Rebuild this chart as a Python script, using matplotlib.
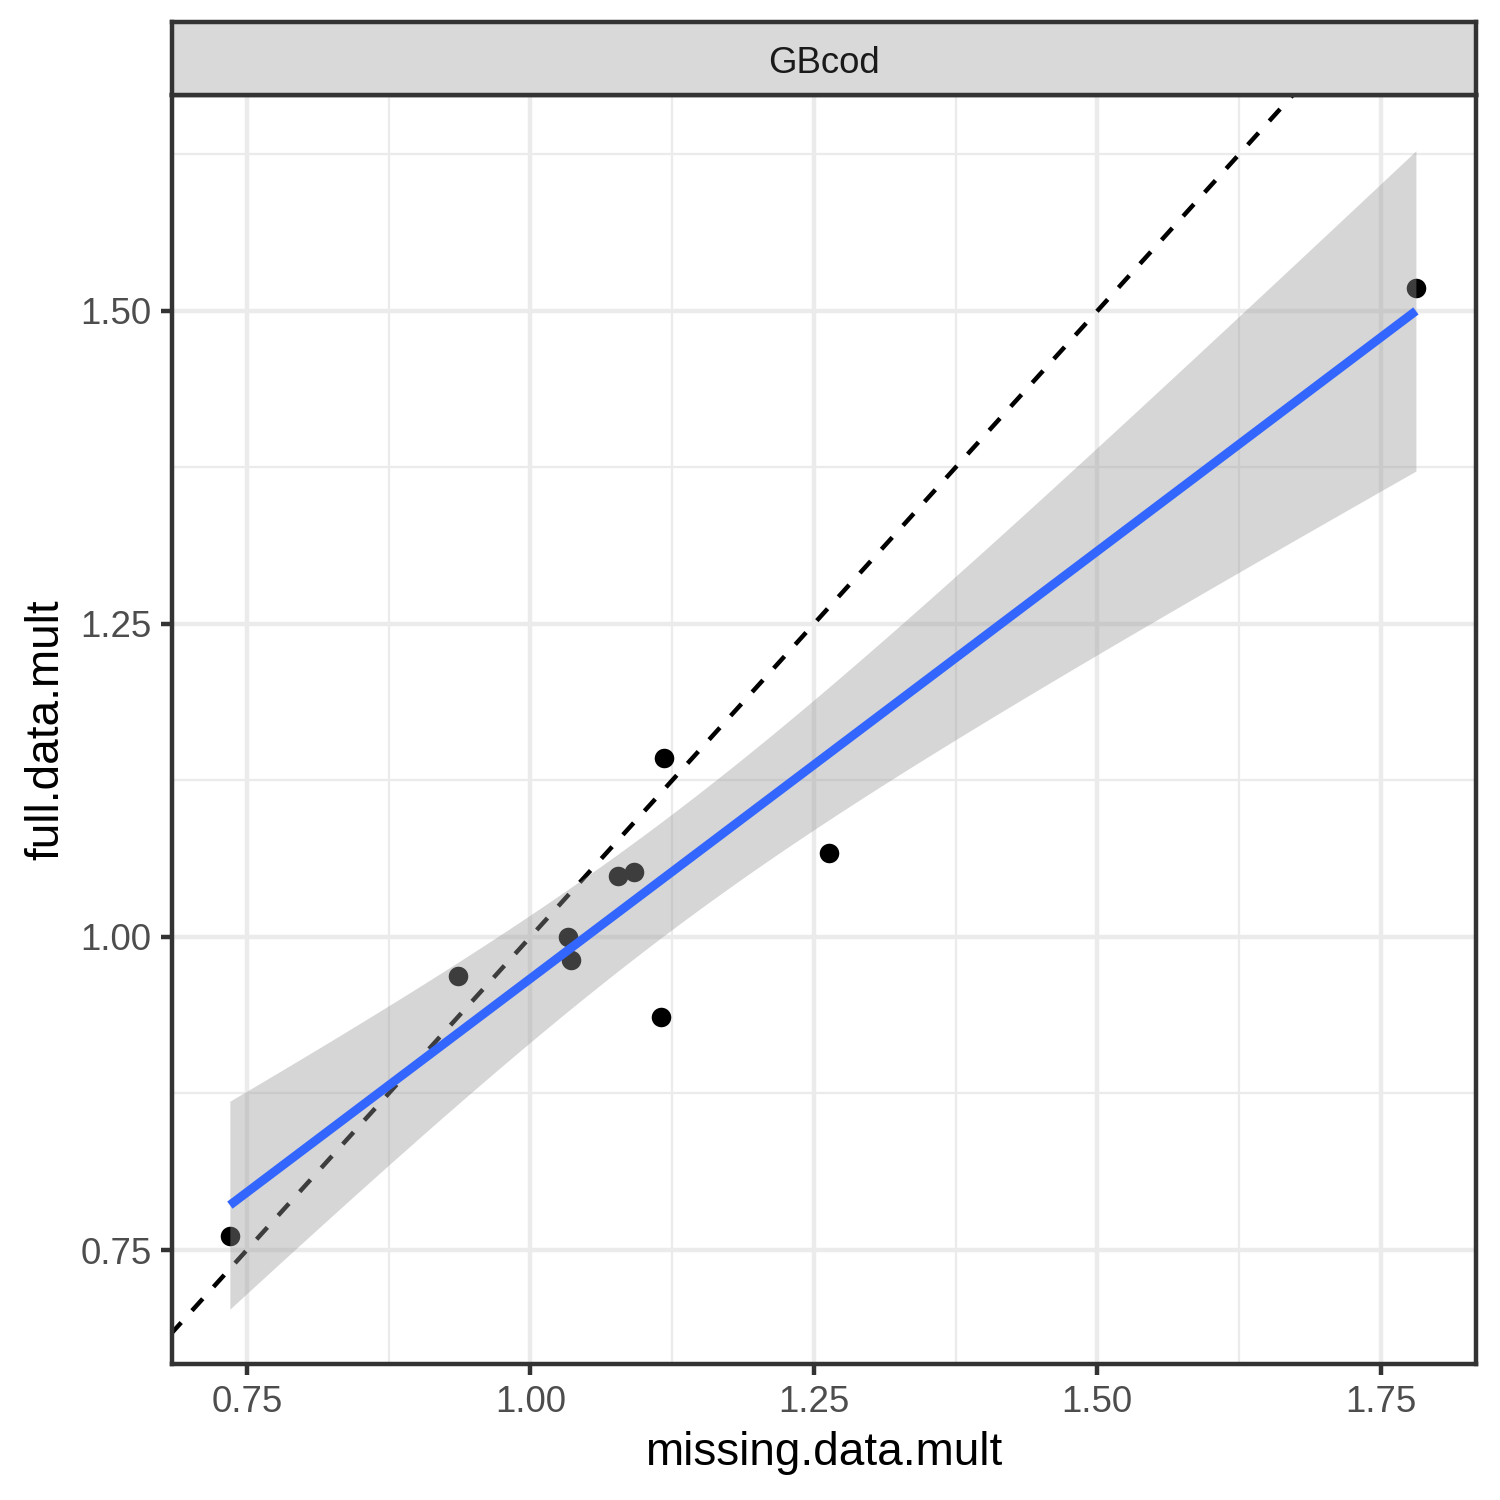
import numpy as np
import matplotlib
matplotlib.use("Agg")
import matplotlib.pyplot as plt

plt.rcParams['font.family'] = ['Liberation Sans', 'DejaVu Sans']

# data
missing_data_mult = [0.735, 0.9365, 1.033, 1.036, 1.077, 1.091, 1.118, 1.115, 1.263, 1.781]
full_data_mult = [0.761, 0.969, 1.000, 0.982, 1.049, 1.052, 1.143, 0.936, 1.067, 1.518]
facet_label = "GBcod"
x_ticks = [0.75, 1.00, 1.25, 1.50, 1.75]
y_ticks = [0.75, 1.00, 1.25, 1.50]

x = np.array(missing_data_mult)
y = np.array(full_data_mult)

# linear model with 95% CI (as in geom_smooth(method='lm'))
n = len(x)
b1, b0 = np.polyfit(x, y, 1)
resid = y - (b0 + b1 * x)
s = np.sqrt(np.sum(resid ** 2) / (n - 2))
tq = 2.306004  # t quantile 0.975, df = 8
xs = np.linspace(x.min(), x.max(), 200)
ys = b0 + b1 * xs
se = s * np.sqrt(1.0 / n + (xs - x.mean()) ** 2 / np.sum((x - x.mean()) ** 2))

fig = plt.figure(figsize=(5, 5), dpi=300)
ax = fig.add_axes([0.1147, 0.0907, 0.9840 - 0.1147, 0.9367 - 0.0907])

xlim = (0.684, 1.834)
ylim = (0.659, 1.6725)
ax.set_xlim(*xlim)
ax.set_ylim(*ylim)

grid_c = '#EBEBEB'
for v in np.arange(0.625, 1.9, 0.125):
    major = any(abs(v - t) < 1e-9 for t in x_ticks)
    ax.axvline(v, color=grid_c, lw=1.07 if major else 0.53, zorder=0)
for v in np.arange(0.625, 1.8, 0.125):
    major = any(abs(v - t) < 1e-9 for t in y_ticks)
    ax.axhline(v, color=grid_c, lw=1.07 if major else 0.53, zorder=0)

ax.scatter(x, y, s=22, color='black', zorder=2, linewidths=0)
ax.plot([0.5, 2.0], [0.5, 2.0], color='black', lw=1.07, ls=(0, (3.6, 3.6)), zorder=3)
ax.fill_between(xs, ys - tq * se, ys + tq * se, color='#999999', alpha=0.4, lw=0, zorder=4)
ax.plot(xs, ys, color='#3366FF', lw=2.13, zorder=5, solid_capstyle='butt')

ax.set_xticks(x_ticks)
ax.set_yticks(y_ticks)
ax.set_xticklabels([f"{t:.2f}" for t in x_ticks])
ax.set_yticklabels([f"{t:.2f}" for t in y_ticks])
ax.tick_params(axis='both', length=2.75, width=1.07, color='#333333',
               labelcolor='#4D4D4D', labelsize=8.8, pad=2.2)
for sp in ax.spines.values():
    sp.set_color('#333333')
    sp.set_linewidth(1.07)
    sp.set_zorder(6)

ax.set_xlabel("missing.data.mult", fontsize=11, color='black', labelpad=2.75)
ax.set_ylabel("full.data.mult", fontsize=11, color='black', labelpad=2.75)

# facet strip
sax = fig.add_axes([0.1147, 0.9367, 0.9840 - 0.1147, 0.9853 - 0.9367])
sax.set_facecolor('#D9D9D9')
sax.set_xticks([])
sax.set_yticks([])
for sp in sax.spines.values():
    sp.set_color('#333333')
    sp.set_linewidth(1.07)
sax.text(0.5, 0.43, facet_label, ha='center', va='center', fontsize=8.8,
         color='#1A1A1A', transform=sax.transAxes)

fig.savefig("out.png", dpi=300)
